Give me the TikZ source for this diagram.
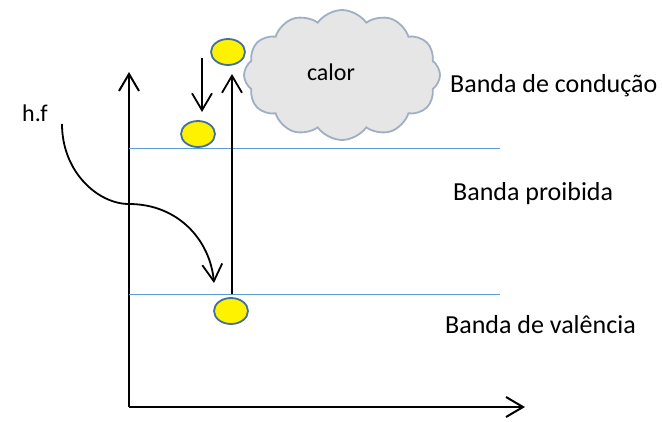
\documentclass[tikz,border=0pt]{standalone}
\usepackage{fontspec}
\setmainfont{Carlito}
\usetikzlibrary{arrows.meta,shapes.symbols,shapes.geometric}
\definecolor{bandblue}{RGB}{91,155,213}
\definecolor{elborder}{RGB}{65,113,156}
\definecolor{cloudfill}{RGB}{230,230,230}
\definecolor{cloudline}{RGB}{160,175,195}
\begin{document}
\begin{tikzpicture}[x=1pt,y=-1pt,
  axisline/.style={line width=2pt,-{Straight Barb[length=17pt,width=20pt,line width=2pt]}},
  jump/.style={line width=1.8pt,-{Straight Barb[length=17pt,width=20pt,line width=1.8pt]}},
  bandline/.style={draw=bandblue,line width=0.9pt},
  electron/.style={ellipse,draw=elborder,fill=yellow,line width=1.8pt,minimum width=34pt,minimum height=26pt,inner sep=0pt},
  lbl/.style={font=\fontsize{26}{30}\selectfont,inner sep=0pt},
  small/.style={font=\fontsize{24}{28}\selectfont,inner sep=0pt}]
\useasboundingbox (0,0) rectangle (662,421);
% axes
\coordinate (O) at (129,407);
\coordinate (ytip) at (129,72);
\coordinate (xtip) at (525,407);
\draw[axisline] (O) -- (ytip);
\draw[axisline] (O) -- (xtip);
% bands
\coordinate (c1) at (129,148);
\coordinate (c2) at (500,148);
\coordinate (v1) at (129,294);
\coordinate (v2) at (500,294);
\draw[bandline] (c1) -- (c2);
\draw[bandline] (v1) -- (v2);
% cloud
\node[cloud,draw=cloudline,fill=cloudfill,line width=1.8pt,cloud puffs=12,cloud puff arc=110,aspect=1.5,minimum width=196pt,minimum height=130pt,inner sep=0pt] (cl) at (342,75) {};
\node[small] (calor) at (331,72) {calor};
% electrons
\node[electron] (e1) at (228,52) {};
\node[electron] (e2) at (198,134) {};
\node[electron] (e3) at (231,311) {};
% transitions
\coordinate (dtop) at (202,58);
\coordinate (dbot) at (202,112);
\draw[jump] (dtop) -- (dbot);
\coordinate (ubot) at (232,294);
\coordinate (utop) at (232,74);
\draw[jump] (ubot) -- (utop);
% photon
\node[small,anchor=base west] (hf) at (22,121) {h.f};
\coordinate (hs) at (62,124);
\coordinate (hm) at (129,204);
\coordinate (he) at (214,283);
\draw[jump] (hs) .. controls (62,172) and (98,204) .. (hm) .. controls (178,204) and (210,240) .. (he);
% labels
\node[lbl,anchor=base west] (lc) at (450,92) {Banda de condução};
\node[lbl,anchor=base west] (lp) at (453,200) {Banda proibida};
\node[lbl,anchor=base west] (lv) at (445,333) {Banda de valência};
\end{tikzpicture}
\end{document}
